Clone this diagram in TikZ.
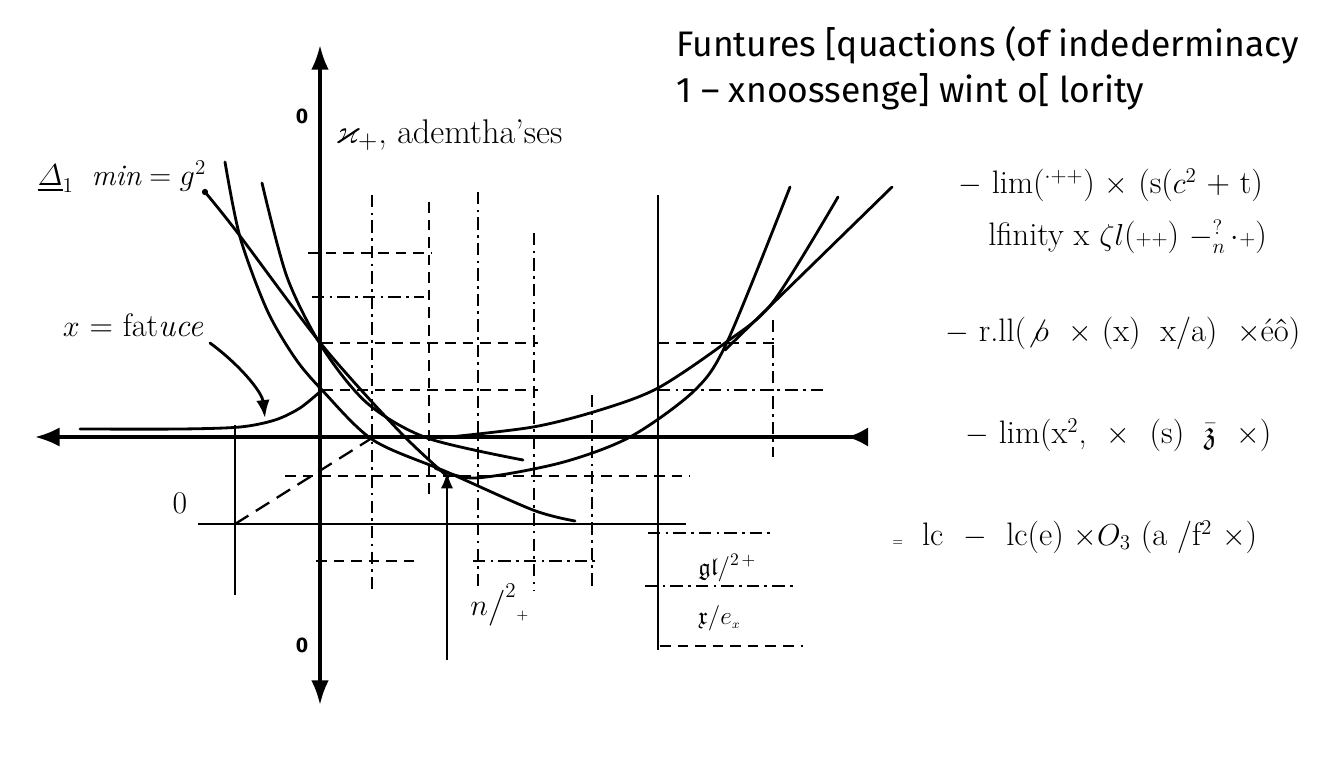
\documentclass[tikz,border=0pt]{standalone}
\usepackage{amsmath,amssymb}
\usepackage{fontspec}
\setsansfont{Fira Sans}
\usetikzlibrary{positioning,arrows.meta}

\begin{document}
\begin{tikzpicture}[
  x=0.02cm, y=-0.02cm,
  >=Latex,
  crv/.style={line width=1.6pt, line cap=round},
  axis/.style={line width=2pt},
  grd/.style={line width=0.8pt, dash pattern=on 6pt off 4pt},
  grdd/.style={line width=0.8pt, dash pattern=on 7pt off 3pt on 1.5pt off 3pt},
  frm/.style={font=\fontsize{18.5}{22}\selectfont, anchor=west, inner sep=0pt},
  ttl/.style={font=\sffamily\fontsize{20.2}{24}\selectfont, anchor=west, inner sep=0pt},
  lbl/.style={font=\fontsize{17}{20}\selectfont, inner sep=0pt},
  zero/.style={font=\sffamily\bfseries\fontsize{12}{14}\selectfont, inner sep=0pt},
]
  \useasboundingbox[fill=white] (0,0) rectangle (1344,768);

  % axes
  \draw[axis, {Latex[length=14pt,width=11pt]}-{Latex[length=12pt,width=11pt,reversed]}] (35,437) -- (868,437);
  \draw[axis, {Latex[length=14pt,width=10pt]}-{Latex[length=14pt,width=10pt]}] (320,705) -- (320,45);
  \draw[line width=1.2pt] (198,524) -- (686,524);
  \draw[line width=1.2pt] (235,425) -- (235,595);
  \draw[line width=1.4pt] (658,195) -- (658,650);

  % grid
  \draw[grd]  (308,253) -- (432,253);
  \draw[grdd] (312,297) -- (424,297);
  \draw[grd]  (322,343) -- (538,343);
  \draw[grd]  (322,390) -- (538,390);
  \draw[grd]  (658,343) -- (778,343);
  \draw[grdd] (658,390) -- (825,390);
  \draw[grd]  (285,476) -- (690,476);
  \draw[grd]  (316,561) -- (414,561);
  \draw[grdd] (473,561) -- (596,561);
  \draw[grdd] (648,533) -- (770,533);
  \draw[grdd] (645,586) -- (797,586);
  \draw[grd]  (660,646) -- (803,646);
  \draw[grdd] (372,195) -- (372,590);
  \draw[grd]  (429,202) -- (429,500);
  \draw[grdd] (478,192) -- (478,590);
  \draw[grdd] (534,233) -- (534,590);
  \draw[grdd] (592,395) -- (592,590);
  \draw[grdd] (773,320) -- (773,457);

  % curves
  \draw[crv] plot[smooth] coordinates {(225,162) (240,237) (267,310) (295,358) (322,390) (373,440) (447,472) (533,510) (575,521)};
  \draw[crv] plot[smooth] coordinates {(262,183) (287,277) (322,347) (367,403) (427,438) (523,460)};
  \draw[crv] plot[smooth] coordinates {(205,192) (237,232) (322,345) (400,432) (448,477)};
  \fill (205,192) circle (1.8pt);
  \draw[crv] plot[smooth] coordinates {(80,429) (180,429) (240,427) (275,420) (300,408) (322,390)};
  \draw[line width=1.3pt, dash pattern=on 9pt off 5pt] (235,524) -- (372,438);
  \draw[crv] plot[smooth] coordinates {(435,468) (475,478) (560,463) (630,437) (695,390) (728,340) (790,187)};
  \draw[crv] plot[smooth] coordinates {(440,438) (533,427) (600,410) (658,388) (725,343) (773,302) (838,197)};
  \draw[crv] (725,350) -- (892,187);

  % labels
  \node[ttl] (ttlA) at (676,45) {Funtures [quactions (of indederminacy};
  \node[ttl] (ttlB) at (676,92) {1 -- xnoossenge] wint o[ lority};
  \node[zero] (zTop) at (302,116) {0};
  \node[zero] (zBot) at (302,645) {0};
  \node[lbl, font=\fontsize{18}{20}\selectfont] (zMid) at (180,503) {0};
  \node[lbl, anchor=west, font=\fontsize{19.5}{22}\selectfont] (kap) at (335,135) {$\varkappa_{+}$, ademtha'ses};
  \node[lbl] (dlt) at (122,177) {$\underline{\varDelta}_1$\ \ $\mathit{min} = g^{2}$};
  \node[lbl, font=\fontsize{18.5}{21}\selectfont] (fat) at (133,325) {$x$ = fat\textit{uce}};
  \node[lbl, anchor=west] (nlb) at (470,605) {$n\big/^{2}{}_{\scriptscriptstyle +}$};
  \node[lbl, anchor=west, font=\fontsize{14}{16}\selectfont] (glb) at (698,568) {$\mathfrak{gl}/^{2\,+}$};
  \node[lbl, anchor=west, font=\fontsize{14}{16}\selectfont] (xlb) at (698,618) {$\mathfrak{x}/e_{\scriptscriptstyle x}$};

  \coordinate (faS) at (210,343);
  \coordinate (faE) at (265,418);
  \draw[crv, ->] (faS) .. controls (240,365) and (262,392) .. (faE);
  \coordinate (upS) at (447,660);
  \coordinate (upE) at (447,472);
  \draw[line width=1.4pt, ->] (upS) -- (upE);

  % formulas
  \node[frm] (fA) at (958,185) {$-$ lim($^{\cdot++}$) $\times$ (s($c^{2}$ + t)};
  \node[frm] (fB) at (988,237) {lfinity x $\zeta l$(${\scriptstyle ++}$) $-^{?}_{n}\,{\cdot}{\scriptstyle +}$)};
  \node[frm] (fC) at (945,333) {$-$ r.ll($\not{o}$ \ $\times$ (x) \ x/a) \ $\times$éô)};
  \node[frm] (fD) at (965,435) {$-$ lim(x$^{2}$, \ $\times$ \ (s) \ $\bar{\mathfrak{z}}$ \ $\times$)};
  \node[frm] (fE) at (892,537) {{\scriptsize=}$\mathit{\Gamma}$ lc \ $-$ \ lc(e) $\times O_{3}$ (a /f$^{2}$ $\times$)};
\end{tikzpicture}
\end{document}
